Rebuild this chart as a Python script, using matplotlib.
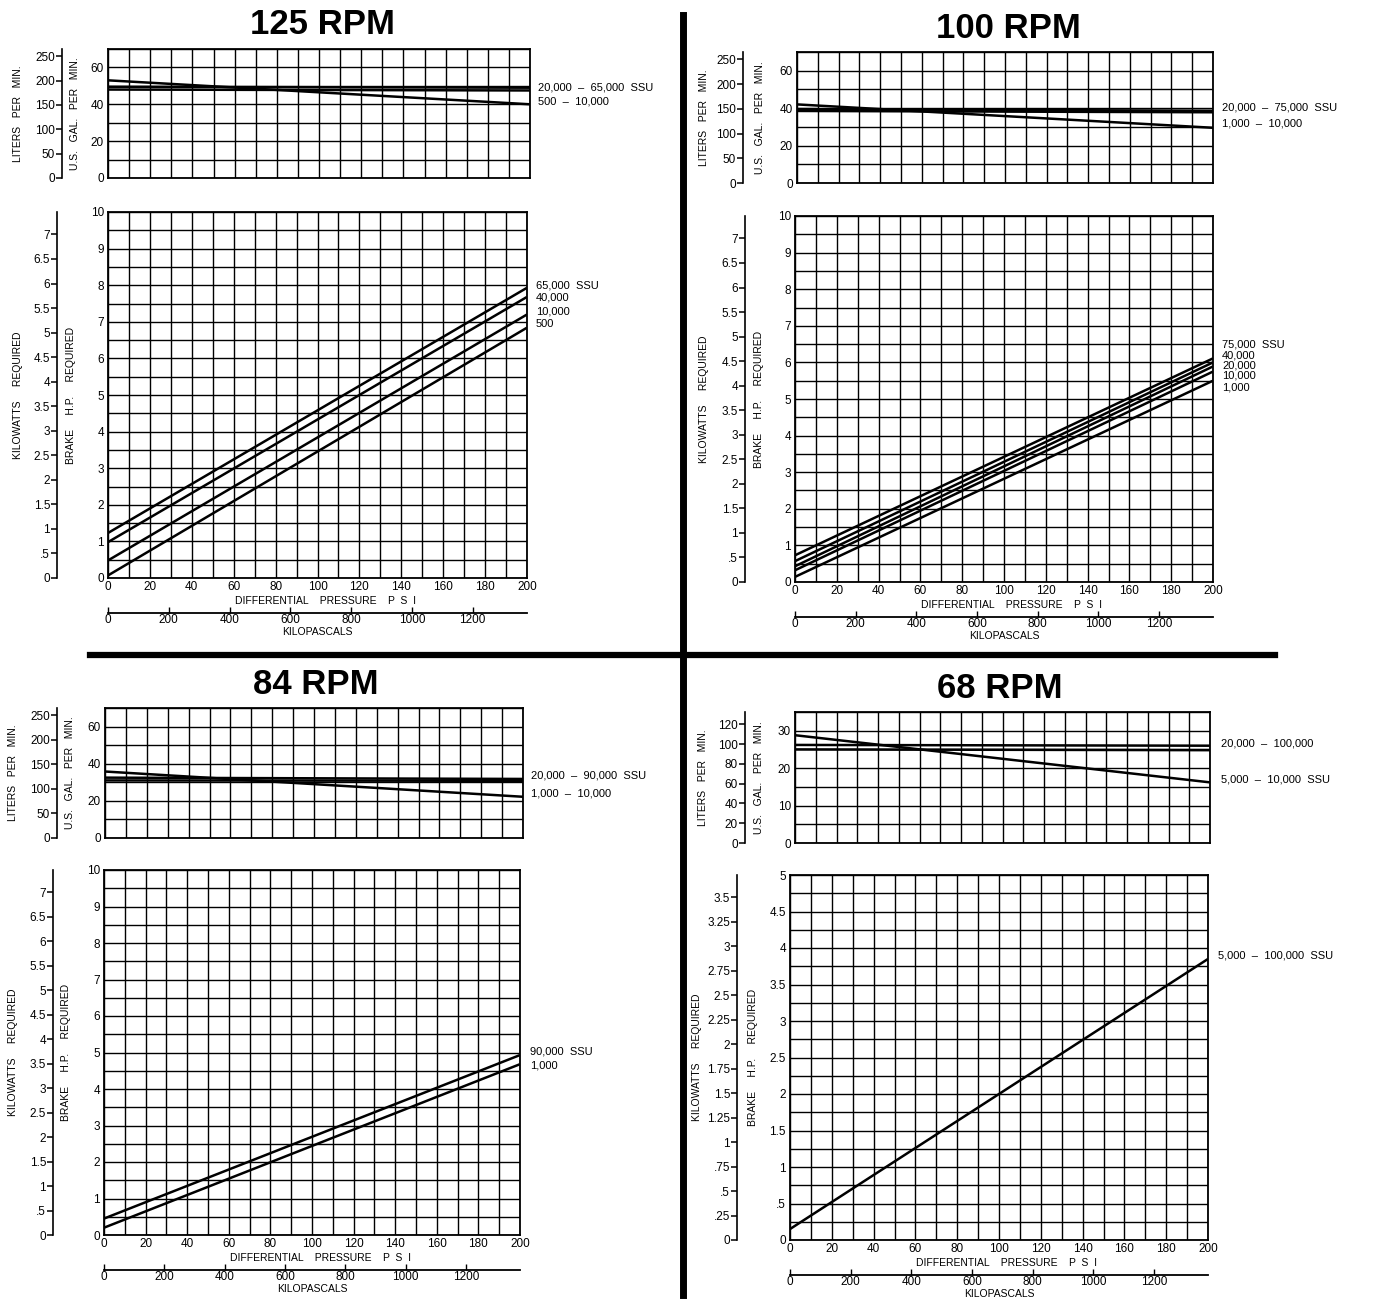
import matplotlib
matplotlib.use('Agg')
import matplotlib.pyplot as plt
from matplotlib.lines import Line2D
import numpy as np

plt.rcParams['font.family'] = ['Liberation Sans', 'DejaVu Sans']

W, H = 1385, 1300
GPM_TO_LPM = 3.78541
HP_TO_KW = 0.745700
PSI_TO_KPA = 6.894757

# ---------------- data ----------------
PSI = [0, 200]
KPA_TICKS = [0, 200, 400, 600, 800, 1000, 1200]

# 125 RPM
FLOW125_HIGH_A = [49.5, 49.0]     # 20,000 - 65,000 SSU band
FLOW125_HIGH_B = [48.0, 47.5]
FLOW125_LOW = [53.0, 40.0]        # 500 - 10,000
FLOW125_TEXT = ['20,000  –  65,000  SSU', '500  –  10,000']
HP125_65000 = [1.23, 7.93]
HP125_40000 = [0.98, 7.68]
HP125_10000 = [0.48, 7.20]
HP125_500 = [0.07, 6.84]
HP125_TEXT = ['65,000  SSU', '40,000', '10,000', '500']

# 100 RPM
FLOW100_HIGH_A = [39.5, 38.6]     # 20,000 - 75,000 SSU band
FLOW100_HIGH_B = [38.5, 37.8]
FLOW100_LOW = [42.0, 29.5]        # 1,000 - 10,000
FLOW100_TEXT = ['20,000  –  75,000  SSU', '1,000  –  10,000']
HP100_75000 = [0.73, 6.11]
HP100_40000 = [0.57, 6.00]
HP100_20000 = [0.43, 5.89]
HP100_10000 = [0.32, 5.75]
HP100_1000 = [0.14, 5.50]
HP100_TEXT = ['75,000  SSU', '40,000', '20,000', '10,000', '1,000']

# 84 RPM
FLOW84_HIGH_A = [32.5, 31.8]      # 20,000 - 90,000 SSU band
FLOW84_HIGH_B = [31.0, 30.8]
FLOW84_LOW = [35.8, 22.2]         # 1,000 - 10,000
FLOW84_TEXT = ['20,000  –  90,000  SSU', '1,000  –  10,000']
HP84_90000 = [0.45, 4.93]
HP84_1000 = [0.20, 4.68]
HP84_TEXT = ['90,000  SSU', '1,000']

# 68 RPM
FLOW68_HIGH_A = [26.2, 26.0]      # 20,000 - 100,000 band
FLOW68_HIGH_B = [25.0, 24.8]
FLOW68_LOW = [28.8, 16.2]         # 5,000 - 10,000 SSU
FLOW68_TEXT = ['20,000  –  100,000', '5,000  –  10,000  SSU']
HP68_ALL = [0.15, 3.85]
HP68_TEXT = ['5,000  –  100,000  SSU']

# ---------------- helpers ----------------
fig = plt.figure(figsize=(W / 100, H / 100), dpi=100)


def fy(y):
    return 1 - y / H


def add_ax(l, t, r, b):
    return fig.add_axes([l / W, 1 - b / H, (r - l) / W, (b - t) / H])


def fmt(v):
    s = '%g' % v
    if s.startswith('0.'):
        s = s[1:]
    return s


def base_grid(ax, ymax, ystep):
    ax.set_xlim(0, 200)
    ax.set_ylim(0, ymax)
    ax.grid(True, which='both', color='black', lw=1.0)
    ax.set_axisbelow(True)
    for s in ax.spines.values():
        s.set_linewidth(1.3)
    ax.tick_params(which='both', length=0, labelsize=8.5, pad=3)
    ax.set_facecolor('white')


def flow_panel(box, ymax, ystep, gal_ticks, lit_ticks, spine_px, lit_lbl_x, gal_lbl_x,
               series, texts, text_ys, text_x):
    l, t, r, b = box
    ax = add_ax(l, t, r, b)
    base_grid(ax, ymax, ystep)
    ax.set_xticks(np.arange(0, 201, 10), [''] * 21)
    yt = np.arange(0, ymax + 0.001, ystep)
    ax.set_yticks(yt, [fmt(v) if any(abs(v - g) < 1e-6 for g in gal_ticks) else '' for v in yt])
    for s in series:
        ax.plot(PSI, s, color='black', lw=1.8, solid_capstyle='butt')
    loc = (spine_px - l) / (r - l)
    sec = ax.secondary_yaxis(loc, functions=(lambda y: y * GPM_TO_LPM, lambda y: y / GPM_TO_LPM))
    sec.set_yticks(lit_ticks, [fmt(v) for v in lit_ticks])
    sec.tick_params(direction='out', length=4, width=1.1, labelsize=8.5, pad=1)
    sec.spines['left'].set_linewidth(1.2)
    cy = fy((t + b) / 2)
    fig.text(lit_lbl_x / W, cy, 'LITERS   PER   MIN.', rotation=90, ha='center', va='center', fontsize=7.5)
    fig.text(gal_lbl_x / W, cy, 'U.S.   GAL.   PER   MIN.', rotation=90, ha='center', va='center', fontsize=7.5)
    for txt, ty in zip(texts, text_ys):
        fig.text(text_x / W, fy(ty), txt, ha='left', va='center', fontsize=8)
    return ax


def power_panel(box, ymax, ystep, hp_label_step, kw_ticks, spine_px, kw_lbl_x, hp_lbl_x,
                series, texts, text_ys, text_x):
    l, t, r, b = box
    ax = add_ax(l, t, r, b)
    base_grid(ax, ymax, ystep)
    xt = np.arange(0, 201, 10)
    ax.set_xticks(xt, [str(v) if v % 20 == 0 else '' for v in xt])
    ax.tick_params(axis='x', pad=2)
    yt = np.arange(0, ymax + 0.001, ystep)
    ax.set_yticks(yt, [fmt(v) if abs(v / hp_label_step - round(v / hp_label_step)) < 1e-6 else '' for v in yt])
    for s in series:
        ax.plot(PSI, s, color='black', lw=1.8, solid_capstyle='butt')
    loc = (spine_px - l) / (r - l)
    sec = ax.secondary_yaxis(loc, functions=(lambda y: y * HP_TO_KW, lambda y: y / HP_TO_KW))
    sec.set_yticks(kw_ticks, [fmt(v) for v in kw_ticks])
    sec.tick_params(direction='out', length=4, width=1.1, labelsize=8.5, pad=1)
    sec.spines['left'].set_linewidth(1.2)
    # kilopascal scale
    hpx = b - t
    kloc = -35 / hpx
    kx = ax.secondary_xaxis(kloc, functions=(lambda x: x * PSI_TO_KPA, lambda x: x / PSI_TO_KPA))
    kx.set_xticks(KPA_TICKS, [str(v) for v in KPA_TICKS])
    kx.tick_params(direction='in', length=4, width=1.0, labelsize=8.5, pad=1)
    kx.spines['bottom'].set_linewidth(1.3)
    cx = (l + r) / 2
    fig.text((cx + 8) / W, fy(b + 23), 'DIFFERENTIAL    PRESSURE    P  S  I', ha='center', va='center', fontsize=7.5)
    fig.text(cx / W, fy(b + 54), 'KILOPASCALS', ha='center', va='center', fontsize=7.5)
    cy = fy((t + b) / 2)
    fig.text(kw_lbl_x / W, cy, 'KILOWATTS     REQUIRED', rotation=90, ha='center', va='center', fontsize=7.5)
    fig.text(hp_lbl_x / W, cy, 'BRAKE     H.P.     REQUIRED', rotation=90, ha='center', va='center', fontsize=7.5)
    for txt, ty in zip(texts, text_ys):
        fig.text(text_x / W, fy(ty), txt, ha='left', va='center', fontsize=8)
    return ax


KW_TICKS_A = list(np.arange(0, 7.01, 0.5))
KW_TICKS_B = list(np.arange(0, 3.51, 0.25))

# ---------------- 125 RPM (top-left) ----------------
fig.text(322 / W, fy(25), '125 RPM', ha='center', va='center', fontsize=25, fontweight='bold')
flow_panel((108, 49, 530, 178), 70, 10, [0, 20, 40, 60], [0, 50, 100, 150, 200, 250], 62, 18, 75,
           [FLOW125_HIGH_A, FLOW125_HIGH_B, FLOW125_LOW], FLOW125_TEXT, [88, 101], 538)
power_panel((108, 212, 527, 578), 10, 0.5, 1, KW_TICKS_A, 57, 18, 71,
            [HP125_65000, HP125_40000, HP125_10000, HP125_500], HP125_TEXT, [286, 298, 311, 324], 536)

# ---------------- 100 RPM (top-right) ----------------
fig.text(1008 / W, fy(28), '100 RPM', ha='center', va='center', fontsize=25, fontweight='bold')
flow_panel((797, 52, 1213, 183), 70, 10, [0, 20, 40, 60], [0, 50, 100, 150, 200, 250], 743, 704, 760,
           [FLOW100_HIGH_A, FLOW100_HIGH_B, FLOW100_LOW], FLOW100_TEXT, [108, 124], 1222)
power_panel((795, 216, 1213, 582), 10, 0.5, 1, KW_TICKS_A, 745, 704, 759,
            [HP100_75000, HP100_40000, HP100_20000, HP100_10000, HP100_1000], HP100_TEXT,
            [345, 356, 366, 376, 387], 1222)

# ---------------- 84 RPM (bottom-left) ----------------
fig.text(316 / W, fy(685), '84 RPM', ha='center', va='center', fontsize=25, fontweight='bold')
flow_panel((105, 708, 523, 838), 70, 10, [0, 20, 40, 60], [0, 50, 100, 150, 200, 250], 57, 13, 70,
           [FLOW84_HIGH_A, FLOW84_HIGH_B, FLOW84_LOW], FLOW84_TEXT, [776, 793], 531)
power_panel((104, 870, 520, 1235), 10, 0.5, 1, KW_TICKS_A, 53, 13, 66,
            [HP84_90000, HP84_1000], HP84_TEXT, [1052, 1065], 530)

# ---------------- 68 RPM (bottom-right) ----------------
fig.text(1000 / W, fy(688), '68 RPM', ha='center', va='center', fontsize=25, fontweight='bold')
flow_panel((795, 712, 1210, 843), 35, 5, [0, 10, 20, 30], [0, 20, 40, 60, 80, 100, 120], 745, 703, 759,
           [FLOW68_HIGH_A, FLOW68_HIGH_B, FLOW68_LOW], FLOW68_TEXT, [743, 779], 1221)
power_panel((790, 875, 1208, 1240), 5, 0.25, 0.5, KW_TICKS_B, 737, 697, 753,
            [HP68_ALL], HP68_TEXT, [955], 1218)

# ---------------- dividers ----------------
fig.add_artist(Line2D([683 / W, 683 / W], [fy(15), fy(1295)], color='black', lw=5, transform=fig.transFigure))
fig.add_artist(Line2D([90 / W, 1275 / W], [fy(655), fy(655)], color='black', lw=4.5, transform=fig.transFigure))

fig.savefig('out.png', dpi=100, facecolor='white')
